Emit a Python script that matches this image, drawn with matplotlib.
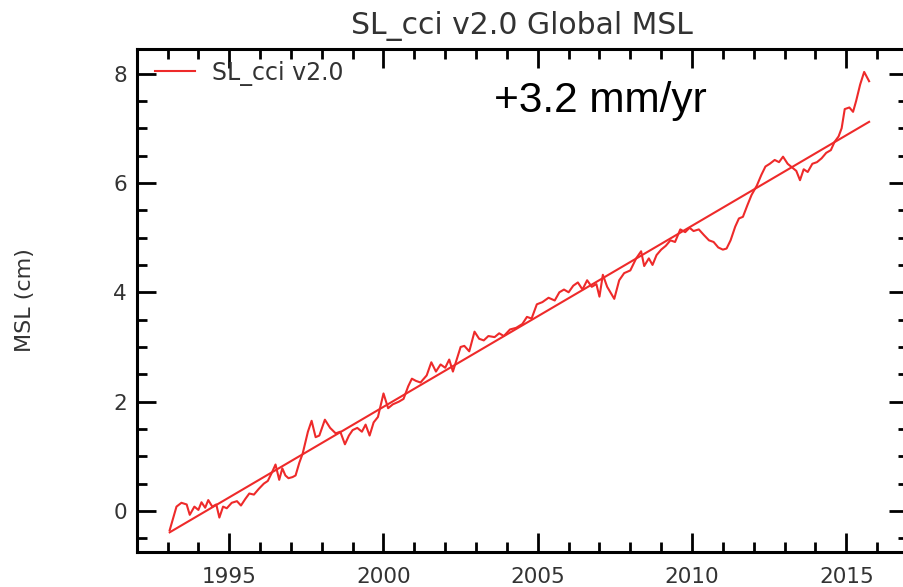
import numpy as np
import matplotlib.pyplot as plt
from matplotlib.ticker import MultipleLocator

# SL_cci v2.0 global mean sea level (year, cm)
years = [
    1993.07, 1993.29, 1993.45, 1993.62, 1993.72, 1993.87, 1994.00, 1994.10,
    1994.22, 1994.32, 1994.45, 1994.58, 1994.68, 1994.80, 1994.92, 1995.08,
    1995.25, 1995.38, 1995.52, 1995.65, 1995.80, 1995.95, 1996.12, 1996.25,
    1996.38, 1996.50, 1996.62, 1996.72, 1996.82, 1996.92, 1997.05, 1997.15,
    1997.27, 1997.38, 1997.55, 1997.67, 1997.80, 1997.92, 1998.10, 1998.27,
    1998.45, 1998.60, 1998.75, 1998.88, 1999.00, 1999.15, 1999.30, 1999.42,
    1999.55, 1999.68, 1999.82, 2000.00, 2000.15, 2000.30, 2000.50, 2000.65,
    2000.80, 2000.92, 2001.05, 2001.20, 2001.40, 2001.55, 2001.70, 2001.85,
    2002.00, 2002.13, 2002.25, 2002.50, 2002.62, 2002.78, 2002.95, 2003.10,
    2003.25, 2003.40, 2003.60, 2003.75, 2003.90, 2004.10, 2004.30, 2004.50,
    2004.65, 2004.80, 2004.97, 2005.15, 2005.35, 2005.55, 2005.70, 2005.85,
    2006.00, 2006.15, 2006.30, 2006.45, 2006.60, 2006.75, 2006.90, 2007.00,
    2007.11, 2007.25, 2007.48, 2007.64, 2007.80, 2008.00, 2008.19, 2008.35,
    2008.45, 2008.60, 2008.72, 2008.85, 2009.00, 2009.15, 2009.30, 2009.45,
    2009.62, 2009.78, 2009.92, 2010.05, 2010.22, 2010.38, 2010.55, 2010.70,
    2010.85, 2011.00, 2011.12, 2011.25, 2011.40, 2011.52, 2011.65, 2011.80,
    2011.93, 2012.10, 2012.25, 2012.38, 2012.52, 2012.68, 2012.82, 2012.95,
    2013.10, 2013.25, 2013.38, 2013.50, 2013.62, 2013.75, 2013.90, 2014.05,
    2014.20, 2014.35, 2014.50, 2014.62, 2014.75, 2014.85, 2014.95, 2015.10,
    2015.22, 2015.32, 2015.45, 2015.58, 2015.74,
]
msl = [
    -0.35, 0.08, 0.15, 0.12, -0.07, 0.08, 0.02, 0.16,
    0.06, 0.20, 0.08, 0.12, -0.12, 0.08, 0.05, 0.15,
    0.18, 0.10, 0.22, 0.32, 0.30, 0.40, 0.50, 0.55,
    0.70, 0.85, 0.57, 0.78, 0.65, 0.60, 0.62, 0.65,
    0.88, 1.05, 1.45, 1.65, 1.35, 1.38, 1.67, 1.52,
    1.42, 1.45, 1.22, 1.38, 1.48, 1.52, 1.45, 1.58,
    1.38, 1.62, 1.72, 2.15, 1.88, 1.95, 2.00, 2.05,
    2.28, 2.42, 2.38, 2.35, 2.48, 2.72, 2.55, 2.68,
    2.62, 2.77, 2.55, 3.00, 3.02, 2.92, 3.28, 3.15,
    3.12, 3.20, 3.18, 3.25, 3.20, 3.32, 3.35, 3.42,
    3.55, 3.52, 3.78, 3.82, 3.90, 3.85, 4.00, 4.05,
    4.00, 4.12, 4.18, 4.05, 4.22, 4.10, 4.15, 3.92,
    4.32, 4.10, 3.88, 4.22, 4.35, 4.40, 4.62, 4.75,
    4.48, 4.62, 4.50, 4.68, 4.78, 4.85, 4.95, 4.92,
    5.15, 5.10, 5.18, 5.12, 5.15, 5.05, 4.95, 4.92,
    4.82, 4.78, 4.80, 4.95, 5.20, 5.35, 5.38, 5.60,
    5.78, 5.95, 6.15, 6.30, 6.35, 6.42, 6.38, 6.48,
    6.35, 6.28, 6.22, 6.05, 6.25, 6.20, 6.35, 6.38,
    6.45, 6.55, 6.60, 6.75, 6.85, 7.00, 7.35, 7.38,
    7.30, 7.50, 7.80, 8.03, 7.86,
]
x_ticks = [1995, 2000, 2005, 2010, 2015]
rate_label = '+3.2 mm/yr'

t = np.array(years)
h = np.array(msl)
coef = np.polyfit(t, h, 1)
trend = np.polyval(coef, t)

red = '#ee2a2a'
grey = '#333333'

fig = plt.figure(figsize=(9.04, 5.87), dpi=100)
ax = fig.add_axes([0.1512, 0.0596, 0.8532, 0.857])

ax.plot(t, h, color=red, lw=1.5, label='SL_cci v2.0')
ax.plot(t, trend, color=red, lw=1.5)

ax.set_xlim(1992, 2017)
ax.set_ylim(-0.75, 8.45)
ax.set_xticks(x_ticks)
ax.xaxis.set_minor_locator(MultipleLocator(1))
ax.yaxis.set_major_locator(MultipleLocator(2))
ax.yaxis.set_minor_locator(MultipleLocator(0.5))
ax.tick_params(which='both', direction='in', top=True, right=True,
               width=2, colors='black', labelcolor=grey, labelsize=15.5)
ax.tick_params(which='major', length=14)
ax.tick_params(which='minor', length=7)
ax.tick_params(axis='x', pad=11)
ax.tick_params(axis='y', pad=7)
for s in ax.spines.values():
    s.set_linewidth(2.2)

ax.set_title('SL_cci v2.0 Global MSL', fontsize=21.5, color=grey, pad=11)
ax.set_ylabel('MSL (cm)', fontsize=16, color=grey, labelpad=56)

ax.text(2003.59, 7.30, rate_label, fontsize=30.5, family='Liberation Sans',
        color='black', ha='left', va='baseline')

ax.legend(loc='center left', bbox_to_anchor=(0.0237, 0.952), frameon=False,
          borderpad=0, borderaxespad=0, handlelength=1.7, handletextpad=0.72,
          fontsize=17, labelcolor=grey)

fig.savefig('out.png', dpi=100)
